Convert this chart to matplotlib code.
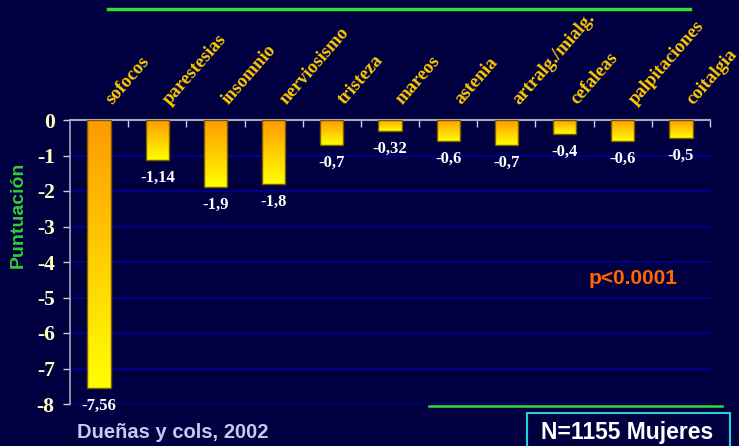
import matplotlib
matplotlib.use("Agg")
import matplotlib.pyplot as plt
import numpy as np
from matplotlib.colors import LinearSegmentedColormap
from matplotlib.patches import Rectangle
from matplotlib.lines import Line2D

categories = ["sofocos", "parestesias", "insomnio", "nerviosismo", "tristeza",
              "mareos", "astenia", "artralg./mialg.", "cefaleas", "palpitaciones", "coitalgia"]
values = [-7.56, -1.14, -1.9, -1.8, -0.7, -0.32, -0.6, -0.7, -0.4, -0.6, -0.5]
value_labels = ["-7,56", "-1,14", "-1,9", "-1,8", "-0,7", "-0,32", "-0,6", "-0,7", "-0,4", "-0,6", "-0,5"]
yticks = [0, -1, -2, -3, -4, -5, -6, -7, -8]
ytick_labels = ["0", "-1", "-2", "-3", "-4", "-5", "-6", "-7", "-8"]

BG = "#000040"
W, H = 739, 446
fig = plt.figure(figsize=(W / 100, H / 100), dpi=100, facecolor=BG)
ax = fig.add_axes([70 / W, 1 - 404 / H, 640 / W, 284 / H], facecolor=BG)

x = np.arange(len(categories))

# gridlines
for yv in yticks[1:]:
    ax.axhline(yv, color="#000099", lw=1.2, zorder=0)

cmap = LinearSegmentedColormap.from_list("og", ["#FF9900", "#FFFF00"])
grad = np.linspace(0, 1, 256).reshape(-1, 1)
bars = ax.bar(x, values, width=0.4, color="none", edgecolor="#7a5c00", lw=1.0, zorder=3)
for b in bars:
    x0 = b.get_x()
    x1 = x0 + b.get_width()
    y0 = b.get_y() + b.get_height()
    im = ax.imshow(grad, cmap=cmap, aspect="auto", extent=(x0, x1, y0, 0),
                   origin="upper", zorder=2)
    im.set_clip_path(b)
ax.set_xlim(-0.5, len(categories) - 0.5)
ax.set_ylim(-8, 0)

# value labels
for xi, v, lab in zip(x, values, value_labels):
    ax.annotate(lab, (xi, v), xytext=(0, -7), textcoords="offset points",
                ha="center", va="top", color="white", fontsize=12,
                fontweight="bold", family="Liberation Serif", zorder=5)

# category labels
for xi, c in zip(x, categories):
    ax.text(xi + 0.22, 0.42, c, rotation=49, rotation_mode="anchor",
            ha="left", va="baseline", color="#FFCC00", fontsize=13.5,
            fontweight="bold", family="Liberation Serif", clip_on=False)

# axes styling
for s in ["right", "bottom"]:
    ax.spines[s].set_visible(False)
ax.spines["top"].set_color("#A8A8B8")
ax.spines["left"].set_color("#A8A8B8")
ax.spines["top"].set_linewidth(1.5)
ax.spines["left"].set_linewidth(1.2)
ax.xaxis.tick_top()
ax.set_xticks(np.arange(len(categories)) + 0.5)
ax.set_xticklabels([])
ax.tick_params(axis="x", direction="in", length=5, color="#D0D0D0", width=1)
ax.set_yticks(yticks)
ax.set_yticklabels(ytick_labels)
ax.tick_params(axis="y", direction="out", length=5, color="#D0D0D0", width=1, pad=6,
               labelcolor="#FFFFC0", labelsize=15.5)
for t in ax.get_yticklabels():
    t.set_fontweight("bold")
    t.set_family("Liberation Serif")

# y label
fig.text(18 / W, 1 - 215 / H, "Puntuación", rotation=90, ha="center", va="center",
         color="#33CC33", fontsize=14, fontweight="bold", family="Liberation Sans")

# green lines
fig.add_artist(Line2D([108 / W, 690 / W], [1 - 9 / H, 1 - 9 / H], color="#33DD33", lw=2.5))
fig.add_artist(Line2D([429 / W, 722 / W], [1 - 406 / H, 1 - 406 / H], color="#33DD33", lw=1.8))

# p-value
fig.text(633 / W, 1 - 278 / H, "p<0.0001", ha="center", va="center", color="#FF6600",
         fontsize=15, fontweight="bold", family="Liberation Sans")

# source
fig.text(77 / W, 1 - 433 / H, "Dueñas y cols, 2002", ha="left", va="center", color="#C8C8F0",
         fontsize=14.5, fontweight="bold", family="Liberation Sans")

# N box
fig.add_artist(Rectangle((527 / W, 1 - 450 / H), 203 / W, 37 / H, transform=fig.transFigure,
                         facecolor="none", edgecolor="#22D3D3", lw=1.5))
fig.text(627 / W, 1 - 432 / H, "N=1155 Mujeres", ha="center", va="center", color="white",
         fontsize=16.5, fontweight="bold", family="Liberation Sans")

fig.savefig("out.png", dpi=100, facecolor=BG)
